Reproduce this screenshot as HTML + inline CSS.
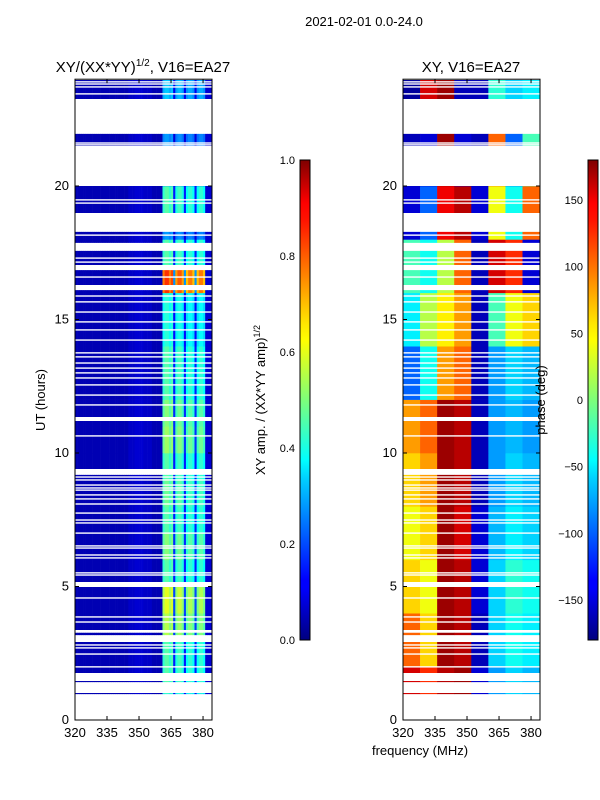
<!DOCTYPE html>
<html><head><meta charset="utf-8"><style>
body{margin:0;background:#fff;}
svg{display:block;font-family:"Liberation Sans",sans-serif;}
</style></head><body>
<svg id="fig" width="600" height="800" xmlns="http://www.w3.org/2000/svg">
<defs>
<linearGradient id="jet" x1="0" y1="1" x2="0" y2="0">
<stop offset="0" stop-color="#00007f"/><stop offset="0.11" stop-color="#0000ff"/><stop offset="0.125" stop-color="#0000ff"/>
<stop offset="0.34" stop-color="#00d4ff"/><stop offset="0.375" stop-color="#00ffff"/><stop offset="0.5" stop-color="#7dff7a"/>
<stop offset="0.625" stop-color="#ffff00"/><stop offset="0.66" stop-color="#ffe600"/><stop offset="0.875" stop-color="#ff1300"/>
<stop offset="0.91" stop-color="#ff0000"/><stop offset="1" stop-color="#7f0000"/>
</linearGradient>
<clipPath id="clipL"></clipPath><clipPath id="clipR"></clipPath>
</defs>
<text x="364" y="26" font-size="13" text-anchor="middle">2021-02-01 0.0-24.0</text>
<text x="143" y="72" font-size="15" text-anchor="middle">XY/(XX*YY)<tspan font-size="10" dy="-6">1/2</tspan><tspan dy="6">, V16=EA27</tspan></text>
<text x="471" y="72" font-size="15" text-anchor="middle">XY, V16=EA27</text>
<g id="left"></g>
<g id="right"></g>
<g id="axes"></g>
<text transform="translate(45,400) rotate(-90)" font-size="13" text-anchor="middle">UT (hours)</text>
<text x="420" y="755" font-size="13" text-anchor="middle">frequency (MHz)</text>
<text transform="translate(265,400) rotate(-90)" font-size="13" text-anchor="middle">XY amp. / (XX*YY amp)<tspan font-size="9" dy="-5">1/2</tspan></text>
<text transform="translate(545,400) rotate(-90)" font-size="13" text-anchor="middle">phase (deg)</text>
<rect x="300" y="160" width="10" height="480" fill="url(#jet)" stroke="#000" stroke-width="1"/>
<rect x="588" y="160" width="10" height="480" fill="url(#jet)" stroke="#000" stroke-width="1"/>
</svg>
<script>
// ---- data ----
const dataSegments = [[23.26,23.97],[21.50,21.95],[18.99,20.0],[17.87,18.28],[17.04,17.57],[16.29,16.85],[11.35,16.10],[9.40,11.20],[5.17,9.18],[3.37,4.98],[3.18,3.27],[1.76,2.92],[1.42,1.46],[0.97,1.01]];
const gapLines = [23.90,23.82,23.71,23.45,21.61,21.54,19.48,19.36,18.16,17.30,17.15,16.59,15.88,15.66,15.28,14.91,14.61,14.23,13.75,13.60,13.37,13.18,13.00,12.81,12.55,12.17,11.80,10.64,9.10,8.99,8.80,8.69,8.61,8.43,8.28,8.09,7.75,7.49,7.38,7.00,6.52,6.44,6.18,6.07,5.51,5.43,4.57,3.86,3.67,2.81,2.70,2.47,1.99];
const channelAmp = [0.05,0.05,0.05,0.05,0.05,0.05,0.05,0.05,0.05,0.05,0.05,0.05,0.05,0.05,0.05,0.05,0.05,0.05,0.05,0.05,0.05,0.05,0.05,0.05,0.05,
 0.07,0.07,0.07,0.08,0.08,0.08,0.08,0.07,0.07,0.07,0.07,0.05,0.05,0.05,0.05,0.05,
 0.42,0.46,0.46,0.42,0.45,0.15,0.40,0.44,0.44,0.40,0.15,0.38,0.42,0.42,0.38,0.15,0.38,0.42,0.42,0.38,0.08,0.08,0.08];
const hourScale = [0.8,1.0,1.0,1.2,1.3,1.0,1.1,1.0,1.05,1.0,1.15,1.1,1.0,1.0,0.9,0.9,1.8,1.0,0.6,1.0,0.6,0.6,0.6,0.7];
const phaseGroups = [320,328,336,344,352,360,368,376];
const phaseBins = [0,2,4,6,8,10,12,14,16,18,20,22];
const phaseVals = [
 [150,120,160,170,-150,-80,-60,-70],
 [100,60,170,160,-160,-60,-40,-50],
 [60,40,170,160,-150,-60,-30,-40],
 [40,60,170,150,-150,-70,-50,-60],
 [60,80,170,160,-160,-80,-60,-70],
 [80,100,170,160,-160,-80,-70,-80],
 [-100,-40,80,100,-160,-80,-60,-70],
 [-50,20,50,80,-160,-20,40,60],
 [-20,-40,20,100,-160,150,120,-150],
 [-150,-100,140,160,-150,40,-40,100],
 [-160,-150,170,-150,-160,100,-100,-20],
 [-170,150,170,-160,-160,-30,-60,-50]];
const yTicks = [0,5,10,15,20];
const xTicks = [320,335,350,365,380];
const ampTicks = [0.0,0.2,0.4,0.6,0.8,1.0];
const phaseTicks = [-150,-100,-50,0,50,100,150];
// ---- scales ----
const NS="http://www.w3.org/2000/svg";
const Y0=720,Y1=79.2;
const yS=h=>Y0-(Y0-Y1)*h/24;
const fx=(x0)=>f=>x0+(f-320)*(137/64.2);
const xL=fx(75), xR=fx(403);
function jet(v){v=Math.max(0,Math.min(1,v));
 const r=Math.max(0,Math.min(1,1.5-Math.abs(4*v-3))),g=Math.max(0,Math.min(1,1.5-Math.abs(4*v-2))),b=Math.max(0,Math.min(1,1.5-Math.abs(4*v-1)));
 return `rgb(${Math.round(r*255)},${Math.round(g*255)},${Math.round(b*255)})`;}
function mk(tag,attrs,parent){const e=document.createElementNS(NS,tag);for(const k in attrs)e.setAttribute(k,attrs[k]);parent.appendChild(e);return e;}
['clipL','clipR'].forEach((id,i)=>{const cp=document.getElementById(id);const x0=i?403:75;
 dataSegments.forEach(s=>mk('rect',{x:x0,y:yS(s[1]),width:137,height:yS(s[0])-yS(s[1])},cp));});
const L=document.getElementById('left'); L.setAttribute('clip-path','url(#clipL)');
for(let h=0;h<24;h++){for(let c=0;c<channelAmp.length;c++){
 const v=Math.min(1,channelAmp[c]*(channelAmp[c]>0.12?hourScale[h]:1));
 const r=mk('rect',{x:xL(320+c),y:yS(h+1),width:xL(321+c)-xL(320+c)+0.3,height:yS(h)-yS(h+1)+0.3,fill:jet(v)},L);
 
 }}
const R=document.getElementById('right'); R.setAttribute('clip-path','url(#clipR)');
phaseBins.forEach((b,i)=>phaseGroups.forEach((g,j)=>{
 const v=(phaseVals[i][j]+180)/360;
 const r=mk('rect',{x:xR(g),y:yS(b+2),width:xR(g+8)-xR(g)+0.3,height:yS(b)-yS(b+2)+0.3,fill:jet(v)},R);
 
 }));
[[L,75],[R,403]].forEach(([g,x0])=>gapLines.forEach(h=>{
 const r=mk('rect',{x:x0,y:yS(h)-0.7,width:137,height:1.4,fill:'#fff'},g);
 
 }));
const A=document.getElementById('axes');
[[75,xL],[403,xR]].forEach(([x0,sx],pi)=>{
 const f=mk('rect',{x:x0,y:Y1,width:137,height:Y0-Y1,fill:'none',stroke:'#000','stroke-width':1},A);
 
 
 yTicks.forEach(t=>{mk('line',{x1:x0,x2:x0+4,y1:yS(t),y2:yS(t),stroke:'#000'},A);mk('line',{x1:x0+137,x2:x0+133,y1:yS(t),y2:yS(t),stroke:'#000'},A);
  const tx=mk('text',{x:x0-6,y:yS(t)+4,'font-size':13,'text-anchor':'end'},A);tx.textContent=t;
  
  });
 xTicks.forEach(t=>{mk('line',{x1:sx(t),x2:sx(t),y1:Y0,y2:Y0-4,stroke:'#000'},A);mk('line',{x1:sx(t),x2:sx(t),y1:Y1,y2:Y1+4,stroke:'#000'},A);
  const tx=mk('text',{x:sx(t),y:Y0+17,'font-size':13,'text-anchor':'middle'},A);tx.textContent=t;
  
  });
});
ampTicks.forEach(t=>{const y=640-480*t;mk('line',{x1:300,x2:310,y1:y,y2:y,stroke:'#000'},A);
 const tx=mk('text',{x:295,y:y+4,'font-size':11,'text-anchor':'end'},A);tx.textContent=t.toFixed(1);
 
 });
phaseTicks.forEach(t=>{const y=400-t*480/360;mk('line',{x1:588,x2:598,y1:y,y2:y,stroke:'#000'},A);
 const tx=mk('text',{x:583,y:y+4,'font-size':11,'text-anchor':'end'},A);tx.textContent=t<0?'\u2212'+(-t):t;
 
 });
</script>
</body></html>
